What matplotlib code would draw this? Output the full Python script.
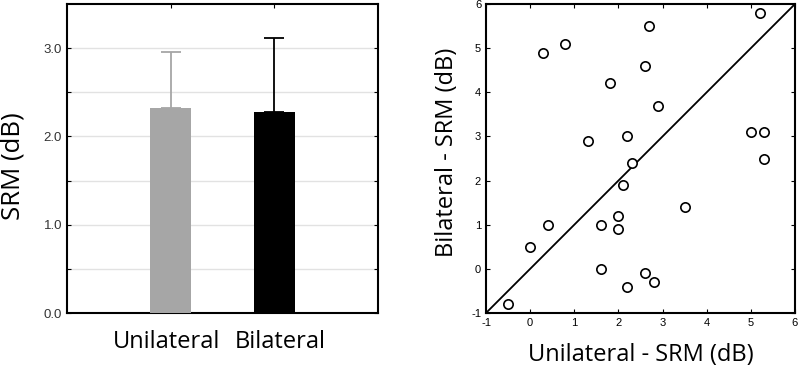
import matplotlib
matplotlib.use("Agg")
import matplotlib.pyplot as plt
import matplotlib.transforms as mtransforms
import numpy as np

# Bar chart data
groups = ["Unilateral", "Bilateral"]
means = [2.32, 2.28]
err_upper = [0.64, 0.83]
bar_colors = ["#a6a6a6", "#000000"]

# Scatter data
uni_srm = [0.3, 0.8, 2.7, 5.2, 2.6, 1.8, 2.9, 1.3, 2.2, 2.3, 5.0, 5.3, 5.3,
           2.1, 3.5, 2.0, 1.6, 2.0, 0.4, 0.0, 1.6, 2.6, 2.8, 2.2, -0.5]
bi_srm = [4.9, 5.1, 5.5, 5.8, 4.6, 4.2, 3.7, 2.9, 3.0, 2.4, 3.1, 3.1, 2.5,
          1.9, 1.4, 1.2, 1.0, 0.9, 1.0, 0.5, 0.0, -0.1, -0.3, -0.4, -0.8]

fig = plt.figure(figsize=(8, 3.68), dpi=100)
W, H = 800, 368

label_font = ["Open Sans", "DejaVu Sans"]
tick_font = ["Liberation Sans", "DejaVu Sans"]

# Left: bar chart
ax1 = fig.add_axes([67 / W, 55 / H, 311 / W, 309 / H])
x = np.arange(1, len(groups) + 1)
for xi, m, e, c in zip(x, means, err_upper, bar_colors):
    ax1.bar(xi, m, width=0.4, color=c, zorder=3)
    ax1.errorbar(xi, m, yerr=[[0], [e]], color=c, capsize=7, capthick=1.3,
                 elinewidth=1.3, zorder=2)
ax1.set_xlim(0, 3)
ax1.set_ylim(0, 3.5)
yt = np.arange(0, 3.01, 0.5)
ax1.set_yticks(yt)
ax1.set_yticklabels([f"{v:.1f}" if v % 1 == 0 else "" for v in yt],
                    fontfamily=tick_font, fontsize=9.5, color="#333333")
ax1.set_xticks(x)
ax1.set_xticklabels([])
# category labels, nudged as in the original figure
blend = mtransforms.blended_transform_factory(ax1.transData, ax1.transAxes)
nudges = [-4, 6]
for xi, g, dx in zip(x, groups, nudges):
    tr = mtransforms.offset_copy(blend, fig=fig, x=dx, y=0, units="dots")
    ax1.text(xi, -29 / 309, g, transform=tr, ha="center", va="center",
             fontfamily=label_font, fontsize=17)
ax1.yaxis.grid(True, color="#e2e2e2", linewidth=1, zorder=0)
ax1.tick_params(axis="both", direction="in", top=True, right=True, length=3, width=0.8)
ax1.set_ylabel("SRM (dB)", fontfamily=label_font, fontsize=18.5)
ax1.yaxis.set_label_coords(-0.135, 0.476)
for s in ax1.spines.values():
    s.set_linewidth(1.5)

# Right: scatter
ax2 = fig.add_axes([486 / W, 55 / H, 309 / W, 309 / H])
ax2.plot([-1, 6], [-1, 6], color="black", linewidth=1.3, zorder=1)
ax2.scatter(uni_srm, bi_srm, s=45, facecolors="white", edgecolors="black",
            linewidths=1.2, zorder=3)
ax2.set_xlim(-1, 6)
ax2.set_ylim(-1, 6)
ticks = np.arange(-1, 7, 1)
ax2.set_xticks(ticks)
ax2.set_yticks(ticks)
ax2.set_xticklabels([str(t) for t in ticks], fontfamily=tick_font, fontsize=8)
ax2.set_yticklabels([str(t) for t in ticks], fontfamily=tick_font, fontsize=8)
ax2.tick_params(axis="both", direction="in", top=True, right=True, length=3, width=0.8)
ax2.set_xlabel("Unilateral - SRM (dB)", fontfamily=label_font, fontsize=17, labelpad=11)
ax2.set_ylabel("Bilateral - SRM (dB)", fontfamily=label_font, fontsize=17)
ax2.yaxis.set_label_coords(-0.086, 0.519)
for s in ax2.spines.values():
    s.set_linewidth(1.5)

fig.savefig("out.png", dpi=100)
